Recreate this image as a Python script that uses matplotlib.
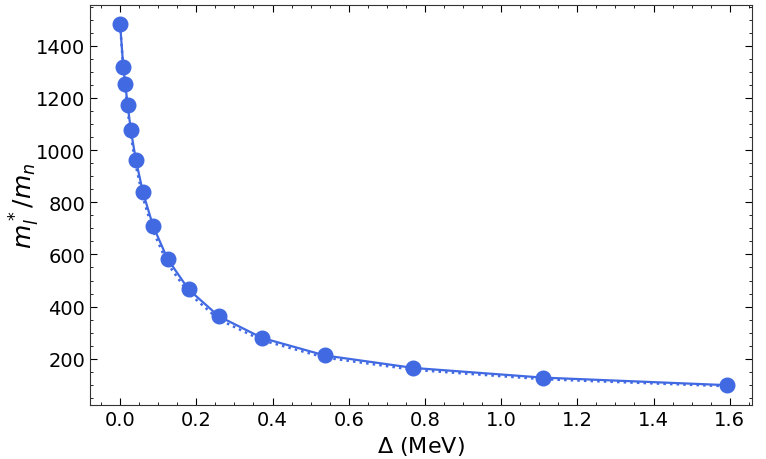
import numpy as np
import matplotlib
matplotlib.use('Agg')
import matplotlib.pyplot as plt
from matplotlib.ticker import MultipleLocator

# gap values (MeV) and effective mass ratio
delta = [0.0, 0.0084, 0.0136, 0.0197, 0.0283, 0.0414, 0.0598, 0.0865,
         0.1245, 0.1796, 0.259, 0.3727, 0.537, 0.770, 1.109, 1.594]
mass_full = [1483, 1317, 1253, 1173, 1075, 962, 839, 709,
             583, 466, 363, 280, 213, 165, 128, 99]
mass_approx = [1483, 1310, 1240, 1155, 1055, 940, 818, 690,
               565, 452, 351, 271, 205, 158, 122, 95]

COLOR = '#4169E1'

fig = plt.figure(figsize=(7.66, 4.6), dpi=100)
ax = fig.add_axes([0.1175, 0.1174, 0.864, 0.8696])

ax.plot(delta, mass_approx, ':', color=COLOR, linewidth=1.8)
ax.plot(delta, mass_full, '-o', color=COLOR, linewidth=1.6, markersize=10.5)

ax.set_xlabel(r'$\Delta$ (MeV)', fontsize=16)
ax.set_ylabel(r'$m_l^*/m_n$', fontsize=18)
ax.yaxis.set_label_coords(-0.073, 0.5)

ax.xaxis.set_major_locator(MultipleLocator(0.2))
ax.xaxis.set_minor_locator(MultipleLocator(0.05))
ax.yaxis.set_major_locator(MultipleLocator(200))
ax.yaxis.set_minor_locator(MultipleLocator(50))
ax.tick_params(which='both', direction='in', top=True, right=True, labelsize=14)
ax.tick_params(which='major', length=5)
ax.tick_params(which='minor', length=2.5)
ax.set_xlim(-0.079, 1.658)
ax.set_ylim(23, 1556)
for s in ax.spines.values():
    s.set_color('#333333')

plt.savefig('out.png', dpi=100)
